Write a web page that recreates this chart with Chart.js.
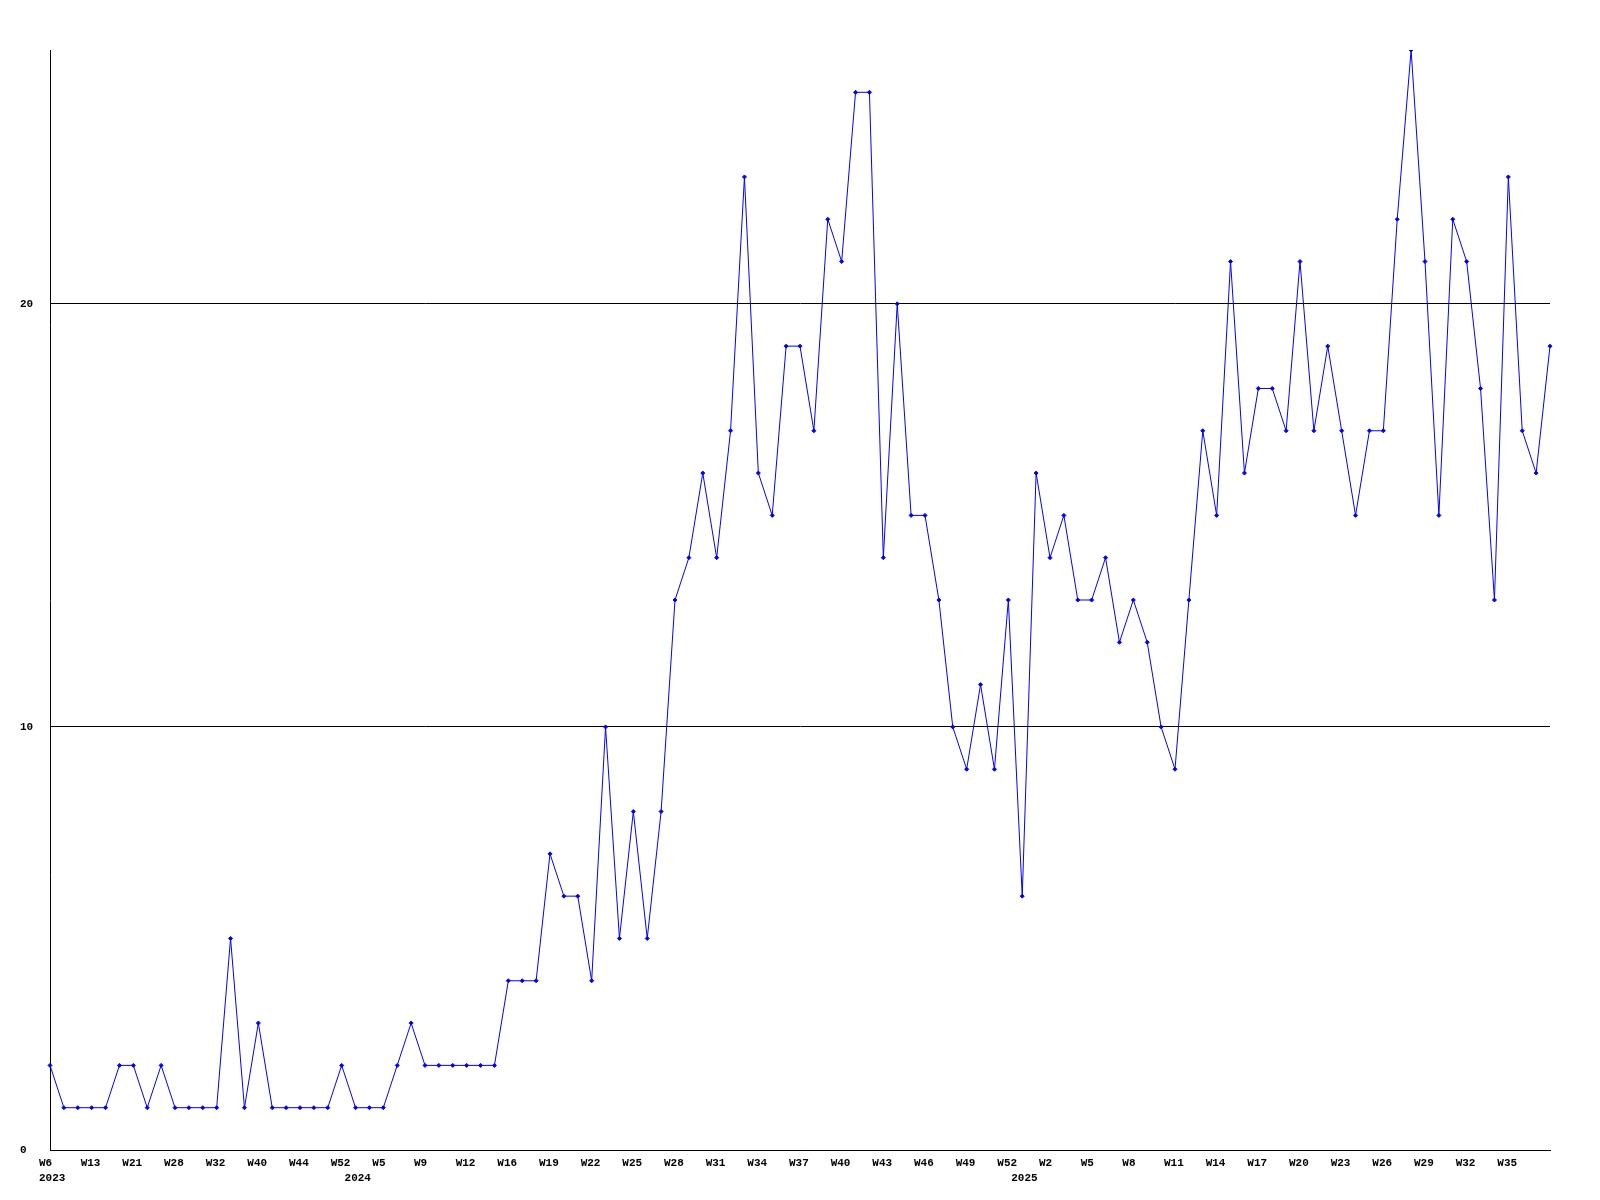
<!DOCTYPE html>
<html>
<head>
<meta charset="utf-8">
<script src="https://cdn.jsdelivr.net/npm/chart.js@4/dist/chart.umd.min.js"></script>
<style>
  html, body { margin: 0; padding: 0; background: #ffffff; }
  #wrap { width: 1600px; height: 1200px; }
</style>
</head>
<body>
<div id="wrap"><canvas id="c" width="1600" height="1200"></canvas></div>
<script>
// Week categories (one per data point)
const weeks2023 = ['W6','W8','W11','W13','W16','W19','W21','W24','W26','W28','W30','W31','W32','W35','W38','W40','W41','W43','W44','W47','W50','W52'];
const weeks2024 = ['W1','W3','W5','W6','W8','W9','W10','W11','W12','W13','W15','W16','W17','W18','W19','W20','W21','W22','W23','W24','W25','W26','W27','W28','W29','W30','W31','W32','W33','W34','W35','W36','W37','W38','W39','W40','W41','W42','W43','W44','W45','W46','W47','W48','W49','W50','W51','W52'];
const weeks2025 = ['W0','W1','W2','W3','W4','W5','W6','W7','W8','W9','W10','W11','W12','W13','W14','W15','W16','W17','W18','W19','W20','W21','W22','W23','W24','W25','W26','W27','W28','W29','W30','W31','W32','W33','W34','W35','W36','W37','W38'];

// Year labels: [category index, text]
const yearMarks = [[0, '2023'], [22, '2024'], [70, '2025']];

// Series values
const values = [
  2,1,1,1,1,2,2,1,2,1,1,1,1,5,1,3,1,1,1,1,1,2,
  1,1,1,2,3,2,2,2,2,2,2,4,4,4,7,6,6,4,10,5,8,5,8,13,14,16,14,17,23,16,15,19,19,17,22,21,25,25,14,20,15,15,13,10,9,11,9,13,
  6,16,14,15,13,13,14,12,13,12,10,9,13,17,15,21,16,18,18,17,21,17,19,17,15,17,17,22,26,21,15,22,21,18,13,23,17,16,19
];

// Y ticks
const yTickStep = 10;
const yMax = 26;

const categories = weeks2023.concat(weeks2024, weeks2025);
const yearRow = categories.map(() => '');
yearMarks.forEach(([i, t]) => { yearRow[i] = t; });

const tickFont = { family: '"Liberation Mono", "DejaVu Sans Mono", monospace', size: 11, weight: 'bold' };

new Chart(document.getElementById('c'), {
  type: 'line',
  data: {
    labels: categories,
    datasets: [{
      data: values,
      xAxisID: 'x',
      yAxisID: 'y',
      borderColor: '#0000ff',
      backgroundColor: '#0000ff',
      borderWidth: 1,
      tension: 0,
      fill: false,
      pointStyle: 'rectRot',
      pointRadius: 2,
      pointBorderWidth: 1,
      pointBorderColor: '#0000ff',
      pointBackgroundColor: '#0000ff'
    }]
  },
  options: {
    responsive: false,
    animation: false,
    events: [],
    layout: { padding: { left: 20, right: 50, top: 50, bottom: 14 } },
    plugins: { legend: { display: false }, tooltip: { enabled: false }, title: { display: false } },
    scales: {
      x: {
        type: 'category',
        position: 'bottom',
        offset: false,
        grid: { display: false, drawTicks: false },
        border: { display: true, color: '#000000', width: 1 },
        ticks: {
          autoSkip: false,
          maxRotation: 0,
          minRotation: 0,
          align: 'start',
          labelOffset: -11,
          padding: 7,
          color: '#000000',
          font: tickFont,
          callback: function (v, i) {
            return (i % 3 === 0 && i + 3 < categories.length) ? this.getLabelForValue(v) : '';
          }
        },
        afterFit: (s) => { s.height = 20; }
      },
      x2: {
        type: 'category',
        position: 'bottom',
        labels: yearRow,
        offset: false,
        grid: { display: false, drawTicks: false },
        border: { display: false },
        ticks: {
          autoSkip: false,
          maxRotation: 0,
          minRotation: 0,
          align: 'start',
          labelOffset: -11,
          padding: 2,
          color: '#000000',
          font: tickFont
        },
        afterFit: (s) => { s.height = 16; }
      },
      y: {
        type: 'linear',
        position: 'left',
        min: 0,
        max: yMax,
        grid: { display: true, color: '#000000', lineWidth: 1, drawTicks: false },
        border: { display: true, color: '#000000', width: 1 },
        ticks: {
          stepSize: yTickStep,
          includeBounds: false,
          crossAlign: 'far',
          color: '#000000',
          font: tickFont
        },
        afterFit: (s) => { s.width = 30; }
      }
    }
  }
});
</script>
</body>
</html>
